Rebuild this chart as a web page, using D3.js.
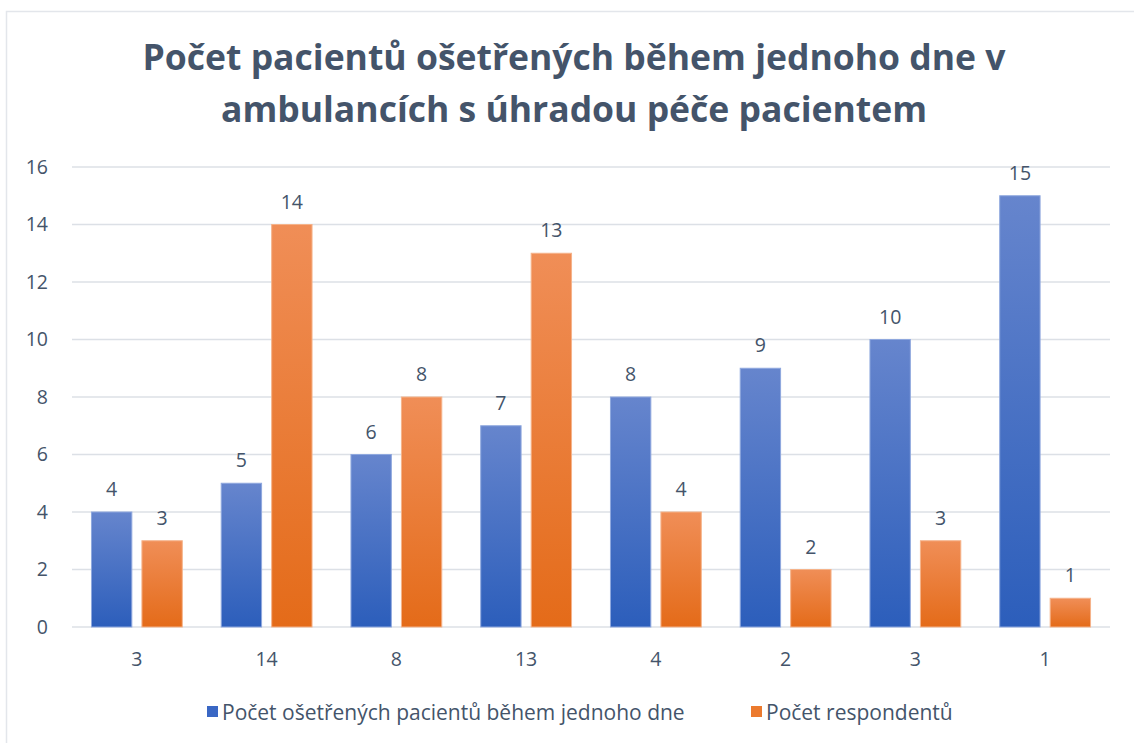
<!DOCTYPE html>
<html>
<head>
<meta charset="utf-8">
<script src="https://d3js.org/d3.v7.min.js"></script>
<style>
  body { margin: 0; background: #fff; }
  text { font-family: "Open Sans", "Noto Sans", sans-serif; }
</style>
</head>
<body>
<svg id="chart" width="1134" height="743"></svg>
<script>
// data
var categories = ["3", "14", "8", "13", "4", "2", "3", "1"];
var seriesNames = ["Počet ošetřených pacientů během jednoho dne", "Počet respondentů"];
var patients = [4, 5, 6, 7, 8, 9, 10, 15];
var respondents = [3, 14, 8, 13, 4, 2, 3, 1];
var yTicks = [0, 2, 4, 6, 8, 10, 12, 14, 16];
var titleLines = ["Počet pacientů ošetřených během jednoho dne v", "ambulancích s úhradou péče pacientem"];

var textColor = "#44546A";
var gridColor = "#DCE0E6";

var svg = d3.select("#chart");

// outer chart frame
svg.append("rect")
  .attr("x", 6.5).attr("y", 11.5)
  .attr("width", 1200).attr("height", 800)
  .attr("fill", "#fff")
  .attr("stroke", "#E3E6EB")
  .attr("stroke-width", 1.5);

// gradients
var defs = svg.append("defs");
var grads = [
  { id: "gBlue", top: "#6685CD", bottom: "#2C5EBB" },
  { id: "gOrange", top: "#F08E57", bottom: "#E46B19" }
];
grads.forEach(function(g) {
  var lg = defs.append("linearGradient")
    .attr("id", g.id)
    .attr("x1", 0).attr("y1", 0).attr("x2", 0).attr("y2", 1);
  lg.append("stop").attr("offset", "0%").attr("stop-color", g.top);
  lg.append("stop").attr("offset", "100%").attr("stop-color", g.bottom);
});

// title
svg.selectAll(".title")
  .data(titleLines)
  .enter().append("text")
  .attr("class", "title")
  .attr("x", 574)
  .attr("y", function(d, i) { return 70 + i * 52; })
  .attr("text-anchor", "middle")
  .attr("fill", textColor)
  .attr("font-size", 35.5)
  .attr("font-weight", "bold")
  .text(function(d) { return d; });

var plotLeft = 72, plotRight = 1110;

var x = d3.scaleBand()
  .domain(d3.range(categories.length))
  .range([plotLeft, plotRight])
  .paddingInner(0.3)
  .paddingOuter(0.15);

var xInner = d3.scaleBand()
  .domain([0, 1])
  .range([0, x.bandwidth()])
  .paddingInner(0.2);

var y = d3.scaleLinear()
  .domain([0, 16])
  .range([627, 167]);

// gridlines
svg.append("g")
  .selectAll("line")
  .data(yTicks)
  .enter().append("line")
  .attr("x1", plotLeft).attr("x2", plotRight)
  .attr("y1", function(d) { return y(d); })
  .attr("y2", function(d) { return y(d); })
  .attr("stroke", gridColor)
  .attr("stroke-width", 1.5);

// y axis labels
var yAxis = svg.append("g")
  .attr("transform", "translate(" + (plotLeft - 24) + ",0)")
  .call(d3.axisLeft(y).tickValues(yTicks).tickSize(0).tickPadding(0));
yAxis.select(".domain").remove();
yAxis.selectAll("text")
  .attr("fill", textColor)
  .attr("font-size", 19.5)
  .style("font-family", "'Open Sans', sans-serif");

// x axis labels
var xAxis = svg.append("g")
  .attr("transform", "translate(0," + 627 + ")")
  .call(d3.axisBottom(x).tickFormat(function(i) { return categories[i]; }).tickSize(0).tickPadding(25));
xAxis.select(".domain").remove();
xAxis.selectAll("text")
  .attr("fill", textColor)
  .attr("font-size", 19.5)
  .style("font-family", "'Open Sans', sans-serif");

// bars
var series = [
  { values: patients, fill: "url(#gBlue)", stroke: "#8FA8DE" },
  { values: respondents, fill: "url(#gOrange)", stroke: "#F5B38A" }
];

series.forEach(function(s, si) {
  var g = svg.append("g");
  g.selectAll("rect")
    .data(s.values)
    .enter().append("rect")
    .attr("x", function(d, i) { return x(i) + xInner(si); })
    .attr("y", function(d) { return y(d); })
    .attr("width", xInner.bandwidth())
    .attr("height", function(d) { return y(0) - y(d); })
    .attr("fill", s.fill)
    .attr("stroke", s.stroke)
    .attr("stroke-width", 1);

  g.selectAll("text")
    .data(s.values)
    .enter().append("text")
    .attr("x", function(d, i) { return x(i) + xInner(si) + xInner.bandwidth() / 2; })
    .attr("y", function(d) { return y(d) - 16; })
    .attr("text-anchor", "middle")
    .attr("fill", textColor)
    .attr("font-size", 19.5)
    .text(function(d) { return d; });
});

// legend
var legendItems = [
  { name: seriesNames[0], color: "#3A67C4", x: 207 },
  { name: seriesNames[1], color: "#EC7A2E", x: 751 }
];
var legend = svg.selectAll(".legend")
  .data(legendItems)
  .enter().append("g")
  .attr("class", "legend")
  .attr("transform", function(d) { return "translate(" + d.x + ",712)"; });
legend.append("rect")
  .attr("x", 0).attr("y", -6)
  .attr("width", 11).attr("height", 11)
  .attr("fill", function(d) { return d.color; });
legend.append("text")
  .attr("x", 15).attr("y", 7.5)
  .attr("fill", textColor)
  .attr("font-size", 21)
  .text(function(d) { return d.name; });
</script>
</body>
</html>
